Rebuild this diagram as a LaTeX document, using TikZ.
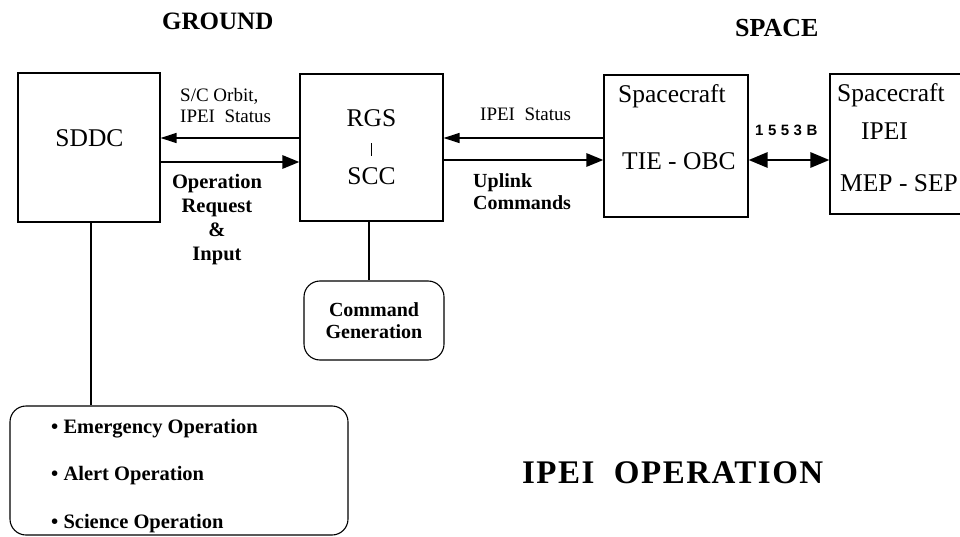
\documentclass[tikz,border=0pt]{standalone}
\usepackage{fontspec}
\setmainfont{Liberation Serif}
\newfontfamily\busfont[LetterSpace=30]{Liberation Sans}
\newfontfamily\titlefont[LetterSpace=4.5]{Liberation Serif}
\usepackage{tikz}
\usetikzlibrary{arrows.meta, calc}

\tikzset{
    block/.style={draw, line width=1.1pt, inner sep=0pt},
    roundblock/.style={block, rounded corners=16pt},
    bigtext/.style={font=\fontsize{25.5}{29}\selectfont, inner sep=0pt},
    smalltext/.style={font=\fontsize{19}{21}\selectfont, inner sep=0pt},
    boldtext/.style={font=\fontsize{20.5}{23.7}\selectfont\bfseries, inner sep=0pt},
    thinarrow/.style={line width=1.3pt, -{Triangle[length=16pt,width=10pt]}},
    thickarrow/.style={line width=2.8pt, -{Triangle[length=17pt,width=13pt]}},
    busarrow/.style={line width=2.8pt, {Triangle[length=19pt,width=15pt]}-{Triangle[length=19pt,width=15pt]}}
}

\begin{document}
\begin{tikzpicture}[x=1pt, y=-1pt]
        \clip (0,0) rectangle (960,537);

        % Titles
        \node[anchor=base west, inner sep=0pt, font=\fontsize{25}{30}\selectfont\bfseries] (ground) at (162,30) {GROUND};
        \node[anchor=base west, inner sep=0pt, font=\fontsize{26}{30}\selectfont\bfseries] (space) at (735,37) {SPACE};
        \node[anchor=base west, inner sep=0pt, font=\fontsize{33}{36}\selectfont\titlefont\bfseries] (title) at (522,483) {IPEI\ \ OPERATION};

        % Blocks
        \node[block, minimum width=142pt, minimum height=149pt] (sddc) at (89,147.5) {};
        \node[bigtext, anchor=base] (sddctxt) at (89.5,147) {SDDC};

        \node[block, minimum width=143pt, minimum height=147pt, align=center, font=\fontsize{25.5}{29}\selectfont] (rgs) at (371.5,147.5)
            {RGS\\ \rule{1.3pt}{13pt}\\ SCC};

        \node[block, minimum width=144pt, minimum height=142pt] (obc) at (676,146) {};
        \node[bigtext, anchor=base west] (obcsc) at (618,103) {Spacecraft};
        \node[bigtext, anchor=base west] (obctxt) at (622,170) {TIE - OBC};

        \node[block, minimum width=150pt, minimum height=140pt] (ipei) at (905,144) {};
        \node[bigtext, anchor=base west] (ipeisc) at (837,102) {Spacecraft};
        \node[bigtext, anchor=base west] (ipeitxt) at (861,140) {IPEI};
        \node[bigtext, anchor=base west] (meptxt) at (840,192) {MEP - SEP};

        \node[roundblock, minimum width=140pt, minimum height=79pt, align=center, font=\fontsize{20}{22}\selectfont\bfseries] (cmd) at (374,320.5)
            {Command\\Generation};

        \node[roundblock, minimum width=338pt, minimum height=129pt] (ops) at (179,470.5) {};
        \node[boldtext, anchor=base west] (emerg) at (51,433) {\textbullet\ Emergency Operation};
        \node[boldtext, anchor=base west] (alert) at (51,480) {\textbullet\ Alert Operation};
        \node[boldtext, anchor=base west] (sci) at (51,528) {\textbullet\ Science Operation};

        % Links between blocks
        \draw[thinarrow] ([yshift=9.5pt]rgs.west) -- ([yshift=9.5pt]rgs.west -| sddc.east);
        \draw[thickarrow] ([yshift=-14.5pt]sddc.east) -- ([yshift=-14.5pt]sddc.east -| rgs.west);
        \draw[thinarrow] ([yshift=9.5pt]rgs.east -| obc.west) -- ([yshift=9.5pt]rgs.east);
        \draw[thickarrow] ([yshift=-12.5pt]rgs.east) -- ([yshift=-12.5pt]rgs.east -| obc.west);
        \draw[busarrow] ([yshift=-14pt]obc.east) -- ([yshift=-14pt]obc.east -| ipei.west);

        \draw[line width=1.1pt] ([xshift=2pt]sddc.south) -- ([xshift=2pt]sddc.south |- ops.north);
        \draw[line width=1.1pt] ([xshift=-2.5pt]rgs.south) -- ([xshift=-2.5pt]rgs.south |- cmd.north);

        % Labels
        \node[smalltext, anchor=base west, align=left] (orbit) at (180,123) {S/C Orbit,\\IPEI\ \ Status};
        \node[boldtext, anchor=base, align=center] (request) at (217,260) {Operation\\Request\\\&\\Input};
        \node[smalltext, anchor=base west] (status) at (480,121) {IPEI\ \ Status};
        \node[boldtext, anchor=base west, align=left, font=\fontsize{20}{22}\selectfont\bfseries] (uplink) at (473,210) {Uplink\\Commands};
        \node[anchor=base west, inner sep=0pt, font=\fontsize{15}{18}\selectfont\busfont\bfseries] (bus) at (755,136) {1553B};
    \end{tikzpicture}
\end{document}
